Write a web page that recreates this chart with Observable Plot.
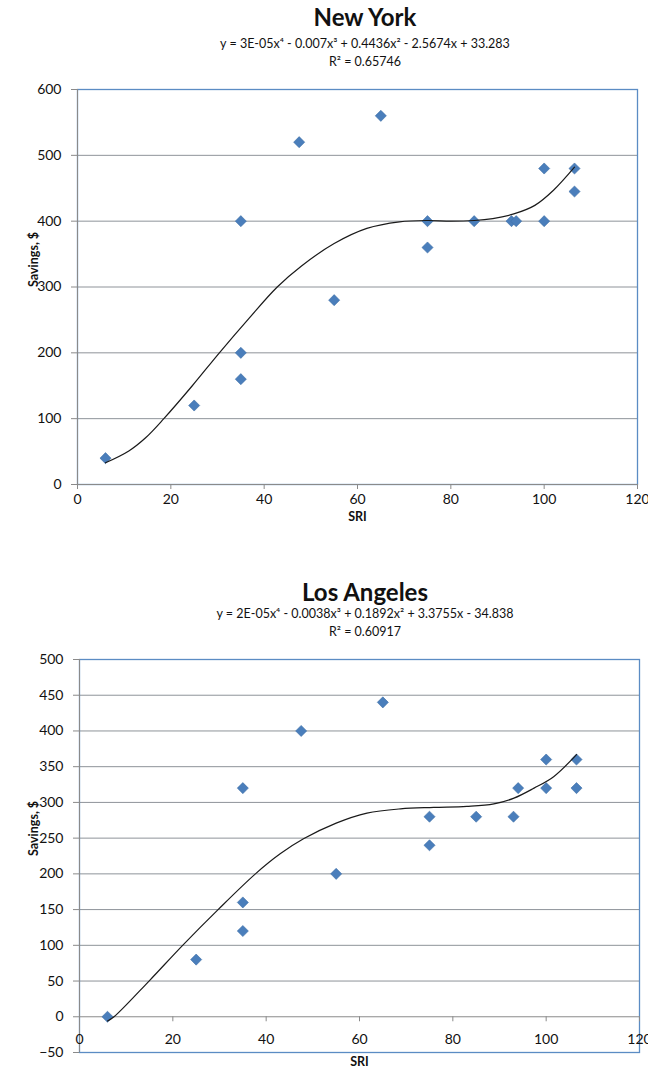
<!DOCTYPE html>
<html>
<head>
<meta charset="utf-8">
<script src="https://cdn.jsdelivr.net/npm/d3@7"></script>
<script src="https://cdn.jsdelivr.net/npm/@observablehq/plot@0.6"></script>
<style>
  html, body { margin: 0; padding: 0; background: #fff; }
  #page { position: relative; width: 648px; height: 1073px; background: #fff; overflow: hidden; font-family: Lato, "Open Sans", sans-serif; color: #000; }
  .t { position: absolute; left: 0; width: 730px; text-align: center; white-space: nowrap; }
  .title { font-size: 24px; font-weight: bold; line-height: 26px; color: #111; }
  .eq { font-size: 12.5px; line-height: 16px; color: #111; }
  .chart { position: absolute; left: 0; }
</style>
</head>
<body>
<div id="page"></div>
<script>
// ---- data ----
const sri = [6, 25, 35, 35, 35, 47.5, 55, 65, 75, 75, 85, 93, 94, 100, 100, 106.5, 106.5];
const nySavings = [40, 120, 400, 200, 160, 520, 280, 560, 400, 360, 400, 400, 400, 480, 400, 480, 445];
const laSavings = [0, 80, 320, 160, 120, 400, 200, 440, 280, 240, 280, 280, 320, 360, 320, 360, 320];

// polynomial trendlines
const nyTrendX = [6, 11, 14.6, 18.5, 24.6, 30.4, 36.7, 42.8, 48, 55, 62, 69, 75, 80, 85, 89, 93.5, 98, 102, 106.5];
const nyTrendY = [33, 51, 71, 100, 150, 200, 252, 300, 332, 366, 389, 399, 401, 400, 401, 404, 411, 424, 447, 482];
const laTrendX = [6, 7.4, 14.9, 22.1, 29.7, 37.7, 43, 48, 55, 61.6, 68.8, 75.9, 83, 88.8, 93.1, 97.4, 101.6, 106.5];
const laTrendY = [-6, 0, 50, 100, 150, 200, 228, 249, 271, 285, 291, 293, 294.5, 298, 306, 320, 336, 367];

const xTicks = [0, 20, 40, 60, 80, 100, 120];
const nyYTicks = [0, 100, 200, 300, 400, 500, 600];
const laYTicks = [-50, 0, 50, 100, 150, 200, 250, 300, 350, 400, 450, 500];
const nyTitle = "New York";
const nyEquation = "y = 3E-05x⁴ - 0.007x³ + 0.4436x² - 2.5674x + 33.283";
const nyR2 = "R² = 0.65746";
const laTitle = "Los Angeles";
const laEquation = "y = 2E-05x⁴ - 0.0038x³ + 0.1892x² + 3.3755x - 34.838";
const laR2 = "R² = 0.60917";
const xLabel = "SRI";
const yLabel = "Savings, $";

const page = document.getElementById("page");
function addText(cls, text, top) {
  const d = document.createElement("div");
  d.className = "t " + cls;
  d.style.top = top + "px";
  d.textContent = text;
  page.appendChild(d);
}

const gridColor = "#8e9399";
const frameColor = "#5b8cc4";
const axisColor = "#8a8a8a";
const dotFill = "#4a7ebb";
const font = "Lato, 'Open Sans', sans-serif";

// ---- New York ----
addText("title", nyTitle, 4);
addText("eq", nyEquation, 36);
addText("eq", nyR2, 54);

const nyData = sri.map((x, i) => ({x, y: nySavings[i]}));
const nyTrend = nyTrendX.map((x, i) => ({x, y: nyTrendY[i]}));
const ny = Plot.plot({
  width: 648,
  height: 455,
  marginLeft: 77,
  marginRight: 11,
  marginTop: 14,
  marginBottom: 46,
  style: {fontFamily: font, background: "#fff", overflow: "visible"},
  x: {domain: [0, 120]},
  y: {domain: [0, 600]},
  marks: [
    Plot.gridY(nyYTicks.slice(1, -1), {stroke: gridColor, strokeOpacity: 1}),
    Plot.frame({stroke: frameColor, strokeWidth: 1.3}),
    Plot.ruleX([0], {stroke: axisColor}),
    Plot.ruleY([0], {stroke: axisColor}),
    Plot.axisY(nyYTicks, {tickSize: 6, tickPadding: 10, fontSize: 14, label: null, stroke: axisColor, fill: "#111"}),
    Plot.axisX(xTicks, {tickSize: 5, tickPadding: 5, fontSize: 14, label: null, stroke: axisColor, fill: "#111"}),
    Plot.dot(nyData, {x: "x", y: "y", symbol: "diamond2", r: 5, fill: dotFill, stroke: "#3e6fa6", strokeWidth: 0.6}),
    Plot.line(nyTrend, {x: "x", y: "y", curve: "catmull-rom", stroke: "#1a1a1a", strokeWidth: 1.2}),
    Plot.text([xLabel], {frameAnchor: "bottom", dy: 36, text: d => d, fontSize: 12.5, fontWeight: "bold", fill: "#111"}),
    Plot.text([yLabel], {frameAnchor: "left", dx: -44, rotate: -90, text: d => d, fontSize: 12.5, fontWeight: "bold", fill: "#111"})
  ]
});
ny.classList.add("chart");
ny.style.top = "75px";
page.appendChild(ny);

// ---- Los Angeles ----
addText("title", laTitle, 579);
addText("eq", laEquation, 606);
addText("eq", laR2, 624);

const laData = sri.map((x, i) => ({x, y: laSavings[i]}));
const laTrend = laTrendX.map((x, i) => ({x, y: laTrendY[i]}));
const la = Plot.plot({
  width: 648,
  height: 428,
  marginLeft: 79,
  marginRight: 9,
  marginTop: 14,
  marginBottom: 21,
  style: {fontFamily: font, background: "#fff", overflow: "visible"},
  x: {domain: [0, 120], axis: null},
  y: {domain: [-50, 500]},
  marks: [
    Plot.gridY(laYTicks.slice(2, -1), {stroke: gridColor, strokeOpacity: 1}),
    Plot.frame({stroke: frameColor, strokeWidth: 1.3}),
    Plot.ruleX([0], {stroke: axisColor}),
    Plot.ruleY([0], {stroke: axisColor}),
    Plot.axisY(laYTicks, {tickSize: 6, tickPadding: 10, fontSize: 14, label: null, stroke: axisColor, fill: "#111"}),
    Plot.ruleX(xTicks, {x: d => d, y1: 0, y2: -7, stroke: axisColor}),
    Plot.text(xTicks, {x: d => d, y: 0, dy: 23, text: d => String(d), fontSize: 14, fill: "#111"}),
    Plot.dot(laData, {x: "x", y: "y", symbol: "diamond2", r: 5, fill: dotFill, stroke: "#3e6fa6", strokeWidth: 0.6}),
    Plot.line(laTrend, {x: "x", y: "y", curve: "catmull-rom", stroke: "#1a1a1a", strokeWidth: 1.2}),
    Plot.text([xLabel], {frameAnchor: "bottom", dy: 13, text: d => d, fontSize: 12.5, fontWeight: "bold", fill: "#111"}),
    Plot.text([yLabel], {frameAnchor: "left", dx: -46, rotate: -90, text: d => d, fontSize: 12.5, fontWeight: "bold", fill: "#111"})
  ]
});
la.classList.add("chart");
la.style.top = "645px";
page.appendChild(la);
</script>
</body>
</html>
